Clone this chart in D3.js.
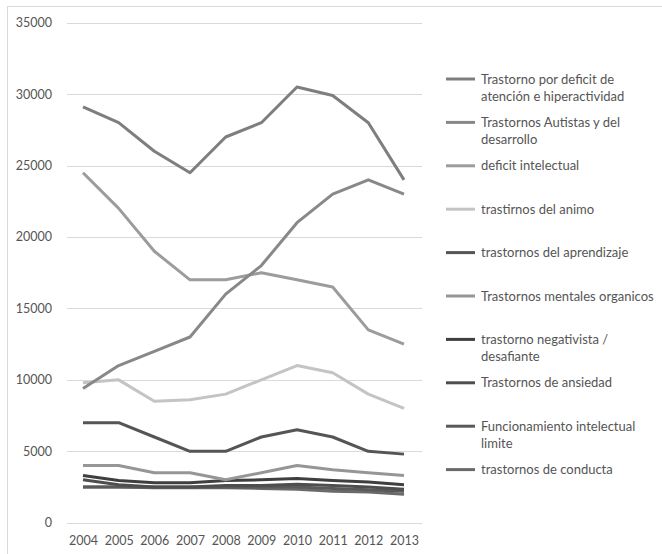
<!DOCTYPE html>
<html>
<head>
<meta charset="utf-8">
<script src="https://cdn.jsdelivr.net/npm/d3@7"></script>
<style>
  html, body { margin: 0; padding: 0; background: #fff; }
  svg { display: block; font-family: Lato, "Open Sans", sans-serif; }
</style>
</head>
<body>
<svg id="chart" width="662" height="554"></svg>
<script>
// Years on the x axis
const years = ["2004","2005","2006","2007","2008","2009","2010","2011","2012","2013"];
const yTicks = [0, 5000, 10000, 15000, 20000, 25000, 30000, 35000];

// One array per diagnosis
const tdah        = [29100, 28000, 26000, 24500, 27000, 28000, 30500, 29900, 28000, 24000];
const autistas    = [9400, 11000, 12000, 13000, 16000, 18000, 21000, 23000, 24000, 23000];
const defIntelec  = [24500, 22000, 19000, 17000, 17000, 17500, 17000, 16500, 13500, 12500];
const animo       = [9800, 10000, 8500, 8600, 9000, 10000, 11000, 10500, 9000, 8000];
const aprendizaje = [7000, 7000, 6000, 5000, 5000, 6000, 6500, 6000, 5000, 4800];
const organicos   = [4000, 4000, 3500, 3500, 3000, 3500, 4000, 3700, 3500, 3300];
const negativista = [3300, 2950, 2800, 2800, 2950, 3000, 3100, 2950, 2850, 2650];
const ansiedad    = [3000, 2650, 2500, 2500, 2600, 2600, 2700, 2600, 2500, 2350];
const limite      = [2500, 2500, 2500, 2500, 2500, 2500, 2500, 2400, 2300, 2200];
const conducta    = [2500, 2500, 2450, 2450, 2450, 2400, 2350, 2200, 2150, 2000];

const seriesNames = [
  ["Trastorno por deficit de", "atención e hiperactividad"],
  ["Trastornos Autistas y del", "desarrollo"],
  ["deficit intelectual"],
  ["trastirnos del animo"],
  ["trastornos del aprendizaje"],
  ["Trastornos mentales organicos"],
  ["trastorno  negativista /", "desafiante"],
  ["Trastornos de ansiedad"],
  ["Funcionamiento intelectual", "limite"],
  ["trastornos de conducta"]
];
const seriesValues = [tdah, autistas, defIntelec, animo, aprendizaje, organicos, negativista, ansiedad, limite, conducta];
const seriesColors = ["#7e7e7e", "#888888", "#9c9c9c", "#c4c4c4", "#555555", "#969696", "#3f3f3f", "#4e4e4e", "#5a5a5a", "#6a6a6a"];

const series = seriesNames.map((name, i) => ({ name, values: seriesValues[i], color: seriesColors[i] }));

const svg = d3.select("#chart");

// Frame edges (top and left)
svg.append("line").attr("x1", 7).attr("x2", 662).attr("y1", 6.5).attr("y2", 6.5)
  .attr("stroke", "#d9d9d9").attr("stroke-width", 1);
svg.append("line").attr("x1", 7.5).attr("x2", 7.5).attr("y1", 6).attr("y2", 554)
  .attr("stroke", "#d9d9d9").attr("stroke-width", 1);

const x = d3.scalePoint().domain(years).range([83, 404]);
const y = d3.scaleLinear().domain([0, 35000]).range([522.7, 22.7]);

// Horizontal gridlines
svg.append("g").selectAll("line").data(yTicks).join("line")
  .attr("x1", 67).attr("x2", 422)
  .attr("y1", d => Math.round(y(d)) + 0.5).attr("y2", d => Math.round(y(d)) + 0.5)
  .attr("stroke", "#d9d9d9").attr("stroke-width", 1);

// Y axis labels
const yAxis = d3.axisLeft(y).tickValues(yTicks).tickSize(0).tickPadding(0).tickFormat(d3.format("d"));
svg.append("g").attr("transform", "translate(52,0)").call(yAxis)
  .call(g => g.select(".domain").remove())
  .call(g => g.selectAll("text").attr("fill", "#555555").attr("font-size", 12.5).attr("font-family", "Lato, sans-serif"));

// X axis labels
const xAxis = d3.axisBottom(x).tickSize(0).tickPadding(0);
svg.append("g").attr("transform", "translate(0,536)").call(xAxis)
  .call(g => g.select(".domain").remove())
  .call(g => g.selectAll("text").attr("fill", "#555555").attr("font-size", 12.5).attr("font-family", "Lato, sans-serif"));

// Series lines (drawn last-to-first so the top legend entries sit on top)
const line = d3.line().x((d, i) => x(years[i])).y(d => y(d));
svg.append("g").selectAll("path").data(series.slice().reverse()).join("path")
  .attr("d", d => line(d.values))
  .attr("fill", "none")
  .attr("stroke", d => d.color)
  .attr("stroke-width", 3)
  .attr("stroke-linejoin", "round")
  .attr("stroke-linecap", "butt");

// Legend
const legend = svg.append("g");
const item = legend.selectAll("g").data(series).join("g")
  .attr("transform", (d, i) => `translate(446,${79 + i * 43.4})`);
item.append("line").attr("x1", 0).attr("x2", 29).attr("y1", 0).attr("y2", 0)
  .attr("stroke", d => d.color).attr("stroke-width", 3);
item.append("text")
  .attr("x", 35).attr("y", 0)
  .attr("fill", "#555555").attr("font-size", 13)
  .selectAll("tspan").data(d => d.name).join("tspan")
  .attr("x", 35).attr("dy", (t, j) => j === 0 ? "0.35em" : "17px")
  .text(t => t);
</script>
</body>
</html>
